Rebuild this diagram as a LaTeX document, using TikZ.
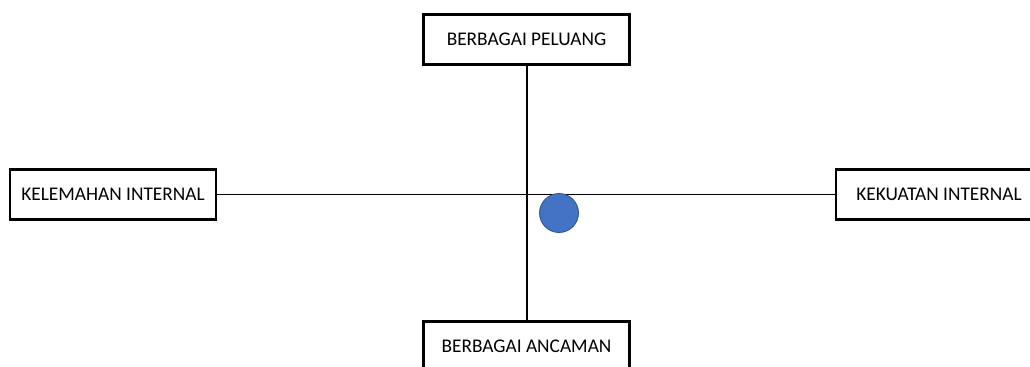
\documentclass[tikz,border=0pt]{standalone}
\usepackage{fontspec}
\setmainfont{Carlito}
\tikzset{
	kotak/.style={draw,line width=1.6pt,minimum width=154.5pt,minimum height=37.5pt,inner sep=0pt,font=\fontsize{14.5}{16}\selectfont},
	garis/.style={line width=1.5pt}
}
\begin{document}
\begin{tikzpicture}[x=0.75pt,y=-0.75pt]
			\useasboundingbox (0,0) rectangle (1030,367);
			\clip (0,0) rectangle (1030,367);
			\coordinate (P) at (526.5,39.5);
			\coordinate (A) at (526.5,346.5);
			\coordinate (W) at (113,194.5);
			\coordinate (S) at (939,194.5);
			\coordinate (T) at (559,213);
			\node[kotak] (peluang) at (P) {BERBAGAI PELUANG};
			\node[kotak] (ancaman) at (A) {BERBAGAI ANCAMAN};
			\node[kotak] (kelemahan) at (W) {KELEMAHAN INTERNAL};
			\node[kotak] (kekuatan) at (S) {KEKUATAN INTERNAL};
			\draw[garis] (peluang) -- (ancaman);
			\draw[garis,line width=1.1pt] (kelemahan) -- (kekuatan);
			\node[circle,fill={rgb,255:red,68;green,114;blue,196},draw={rgb,255:red,47;green,82;blue,143},line width=0.6pt,minimum size=29.25pt,inner sep=0pt] (titik) at (T) {};
		\end{tikzpicture}
\end{document}
